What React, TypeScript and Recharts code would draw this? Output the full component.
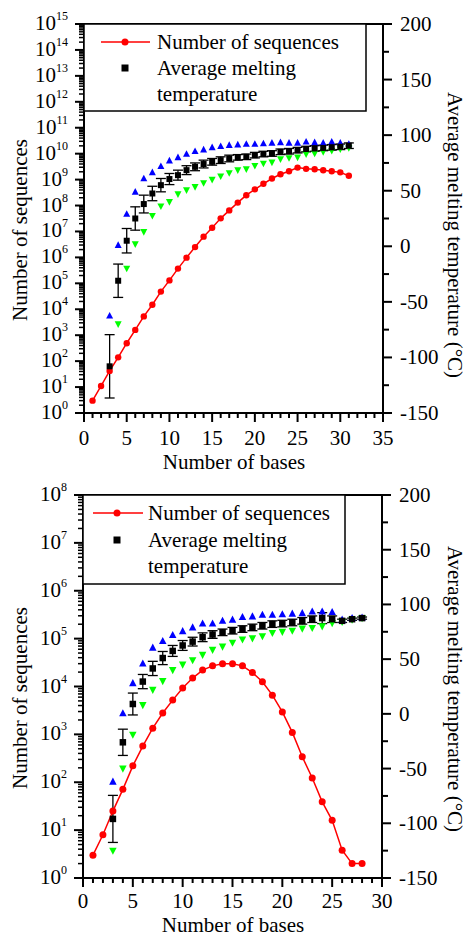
import React from "react";
import { ComposedChart, Scatter, XAxis, YAxis, ErrorBar, ReferenceLine, Legend } from "recharts";

const FONT = '"Liberation Serif", "Times New Roman", serif';

// ---- upper panel ----
const topBases = [1, 2, 3, 4, 5, 6, 7, 8, 9, 10, 11, 12, 13, 14, 15, 16, 17, 18, 19, 20, 21, 22, 23, 24, 25, 26, 27, 28, 29, 30, 31];
const topSequences = [3, 11, 42, 140, 490, 1.6e3, 5.3e3, 1.5e4, 4.8e4, 1.3e5, 3.7e5, 9.8e5, 2.5e6, 6.3e6, 1.4e7, 3.2e7, 6.5e7, 1.3e8, 2.5e8, 4.2e8, 6.9e8, 1.1e9, 1.6e9, 2.1e9, 2.9e9, 2.6e9, 2.5e9, 2.3e9, 2.1e9, 1.9e9, 1.4e9];
const topTempBases = [3, 4, 5, 6, 7, 8, 9, 10, 11, 12, 13, 14, 15, 16, 17, 18, 19, 20, 21, 22, 23, 24, 25, 26, 27, 28, 29, 30, 31];
const topAvgTemp = [-108, -31, 5, 25, 38, 47.5, 55, 60.5, 64, 68.5, 71.5, 74, 76, 77.5, 79, 80, 80.5, 82, 83, 83.5, 85, 85.5, 86.5, 87.5, 88, 88.5, 89, 89.5, 90.5];
const topAvgErr = [28.5, 15, 11, 10.5, 8, 6.5, 6, 5, 4.5, 4, 3.5, 3.5, 3, 3, 3, 2.5, 2.5, 2.5, 2.5, 2.5, 2.5, 2.5, 2.5, 2.5, 2.5, 2.5, 2.5, 2.5, 2.5];
const topMaxTemp = [-62.5, 1, 29, 49, 61, 66.5, 72, 77, 80, 83, 85.5, 87, 89, 90, 91, 91.5, 92, 92, 92.5, 93, 93.5, 93, 93, 94, 93.5, 93, 94, 93, 92];
const topMinTemp = [null, -70, -20, 2, 13, 27.5, 36, 40, 47, 50.5, 53.5, 57, 60, 63, 66, 68.5, 69.5, 72.5, 74.5, 75.5, 78.5, 79.5, 80, 83, 83.5, 85, 86, 87.5, 88.5];

// ---- lower panel ----
const bottomBases = [1, 2, 3, 4, 5, 6, 7, 8, 9, 10, 11, 12, 13, 14, 15, 16, 17, 18, 19, 20, 21, 22, 23, 24, 25, 26, 27, 28];
const bottomSequences = [3, 8, 25, 71, 220, 570, 1350, 2800, 5200, 9300, 1.5e4, 2.2e4, 2.7e4, 3.0e4, 3.0e4, 2.7e4, 1.95e4, 1.26e4, 6.6e3, 2.95e3, 1.1e3, 340, 123, 39, 16, 3.8, 2, 2];
const bottomTempBases = [3, 4, 5, 6, 7, 8, 9, 10, 11, 12, 13, 14, 15, 16, 17, 18, 19, 20, 21, 22, 23, 24, 25, 26, 27, 28];
const bottomAvgTemp = [-96, -26, 9, 29.5, 41.5, 51, 57.5, 62.5, 66, 70, 72.5, 74.5, 76, 77.5, 79, 80.5, 82, 82.5, 83.5, 85, 86.5, 87.5, 86.5, 85, 86.5, 87.5];
const bottomAvgErr = [21.5, 12, 10, 6.5, 6.5, 6, 5, 4.5, 4, 4, 3.5, 3, 3, 3, 3, 3, 3, 3, 3, 3, 3, 5, 3, 1.5, 1, 1];
const bottomMaxTemp = [-62, 0.5, 28, 46, 60.5, 66.5, 72, 75.5, 79, 82.5, 82.5, 85, 86, 88.5, 89, 90.5, 90.5, 91, 91.5, 92, 93.5, 93.5, 93, 86, 87.5, 88];
const bottomMinTemp = [-125, -50, -19, 8, 22, 30, 40, 45, 49, 54, 58.5, 61.5, 65, 68, 69, 71, 74, 75, 76, 78, 78.5, 80, 83, 84, 86, 87.5];

// axis ticks
const topExponents = [0, 1, 2, 3, 4, 5, 6, 7, 8, 9, 10, 11, 12, 13, 14, 15];
const bottomExponents = [0, 1, 2, 3, 4, 5, 6, 7, 8];
const tempTicks = [-150, -125, -100, -75, -50, -25, 0, 25, 50, 75, 100, 125, 150, 175, 200];
const topBaseTicks = [0, 1, 2, 3, 4, 5, 6, 7, 8, 9, 10, 11, 12, 13, 14, 15, 16, 17, 18, 19, 20, 21, 22, 23, 24, 25, 26, 27, 28, 29, 30, 31, 32, 33, 34, 35];
const bottomBaseTicks = [0, 1, 2, 3, 4, 5, 6, 7, 8, 9, 10, 11, 12, 13, 14, 15, 16, 17, 18, 19, 20, 21, 22, 23, 24, 25, 26, 27, 28, 29, 30];

const seriesLabel = "Number of sequences";
const avgLabel = ["Average melting", "temperature"];

// log ticks incl. minor 2..9 per decade
function logTicks(exps: number[]) {
  const out: number[] = [];
  exps.forEach((e, i) => {
    out.push(Math.pow(10, e));
    if (i < exps.length - 1) for (let m = 2; m <= 9; m++) out.push(m * Math.pow(10, e));
  });
  return out;
}

const pts = (xs: number[], ys: (number | null)[], errs?: number[]) =>
  xs
    .map((x, i) => ({ x, y: ys[i], err: errs ? errs[i] : 0 }))
    .filter((p) => p.y !== null);

function LogTick({ x, y, payload }: any) {
  const v = payload.value;
  const e = Math.log10(v);
  const major = Math.abs(e - Math.round(e)) < 1e-9;
  return (
    <g>
      <line x1={x} x2={x - (major ? 9 : 5)} y1={y} y2={y} stroke="#000" strokeWidth={major ? 2 : 1.5} />
      {major && (
        <text x={x - 16} y={y + 6} textAnchor="end" fontFamily={FONT} fontSize={21} fill="#000">
          10<tspan dy={-10} fontSize={12}>{Math.round(e)}</tspan>
        </text>
      )}
    </g>
  );
}

function TempTick({ x, y, payload }: any) {
  const major = payload.value % 50 === 0;
  return (
    <g>
      <line x1={x} x2={x + (major ? 9 : 6)} y1={y} y2={y} stroke="#000" strokeWidth={2} />
      {major && (
        <text x={x + 17} y={y + 7} textAnchor="start" fontFamily={FONT} fontSize={21} fill="#000">
          {payload.value}
        </text>
      )}
    </g>
  );
}

function BaseTick({ x, y, payload, dy }: any) {
  const major = payload.value % 5 === 0;
  return (
    <g>
      <line x1={x} x2={x} y1={y} y2={y + (major ? 9 : 5)} stroke="#000" strokeWidth={2} />
      {major && (
        <text x={x} y={y + dy} textAnchor="middle" fontFamily={FONT} fontSize={21} fill="#000">
          {payload.value}
        </text>
      )}
    </g>
  );
}

function AxisTitle({ text, tx, ty, rot }: any) {
  return (
    <text
      x={tx}
      y={ty}
      transform={rot ? `rotate(${rot} ${tx} ${ty})` : undefined}
      textAnchor="middle"
      fontFamily={FONT}
      fontSize={21}
      fill="#000"
    >
      {text}
    </text>
  );
}

function LegendBox({ w, h, lineX1, lineX2, dotX, textX, rows }: any) {
  return (
    <svg width={w + 2} height={h + 2} style={{ display: "block" }}>
      <rect x={1} y={1} width={w} height={h} fill="#fff" stroke="#000" strokeWidth={1.5} />
      <line x1={lineX1} x2={lineX2} y1={rows[0]} y2={rows[0]} stroke="#ff0000" strokeWidth={1.5} />
      <circle cx={dotX} cy={rows[0]} r={3.5} fill="#ff0000" />
      <rect x={dotX - 3.5} y={rows[1] - 3.5} width={7} height={7} fill="#000" />
      <g fontFamily={FONT} fontSize={21} fill="#000">
        <text x={textX} y={rows[0] + 7}>{seriesLabel}</text>
        <text x={textX} y={rows[1] + 7}>{avgLabel[0]}</text>
        <text x={textX} y={rows[2] + 7}>{avgLabel[1]}</text>
      </g>
    </svg>
  );
}

const circleShape = (r: number) => (p: any) => <circle cx={p.cx} cy={p.cy} r={r} fill="#ff0000" />;
const squareShape = (s: number) => (p: any) => (
  <rect x={p.cx - s / 2} y={p.cy - s / 2} width={s} height={s} fill="#000" />
);
const triUpShape = (s: number) => (p: any) => (
  <polygon
    points={`${p.cx},${p.cy - s * 0.55} ${p.cx - s / 2},${p.cy + s * 0.4} ${p.cx + s / 2},${p.cy + s * 0.4}`}
    fill="#0000ff"
  />
);
const triDownShape = (s: number) => (p: any) => (
  <polygon
    points={`${p.cx},${p.cy + s * 0.55} ${p.cx - s / 2},${p.cy - s * 0.4} ${p.cx + s / 2},${p.cy - s * 0.4}`}
    fill="#00ff00"
  />
);

const axisStyle = { stroke: "#000", strokeWidth: 2 };

function Panel({ cfg }: any) {
  const seq = pts(cfg.bases, cfg.sequences);
  const avg = pts(cfg.tempBases, cfg.avg, cfg.err);
  const max = pts(cfg.tempBases, cfg.max);
  const min = pts(cfg.tempBases, cfg.min);
  const logMax = Math.pow(10, cfg.exponents[cfg.exponents.length - 1]);
  return (
    <div style={{ marginTop: cfg.shift, height: cfg.height }}>
      <ComposedChart width={471} height={cfg.height} margin={{ top: cfg.marginTop, right: 0, bottom: 0, left: 0 }}>
        <XAxis
          type="number"
          dataKey="x"
          domain={[0, cfg.xMax]}
          ticks={cfg.xTicks}
          interval={0}
          height={cfg.xHeight}
          allowDataOverflow
          tickSize={0}
          tickMargin={0}
          tickLine={false}
          axisLine={axisStyle}
          tick={<BaseTick dy={cfg.xTickDy} />}
          label={<AxisTitle text="Number of bases" tx={cfg.xTitle[0]} ty={cfg.xTitle[1]} />}
        />
        <YAxis
          yAxisId="left"
          dataKey="y"
          scale="log"
          type="number"
          domain={[1, logMax]}
          ticks={logTicks(cfg.exponents)}
          interval={0}
          width={cfg.leftWidth}
          allowDataOverflow
          tickSize={0}
          tickMargin={0}
          tickLine={false}
          axisLine={axisStyle}
          tick={<LogTick />}
          label={<AxisTitle text="Number of sequences" tx={cfg.leftTitle[0]} ty={cfg.leftTitle[1]} rot={-90} />}
        />
        <YAxis
          yAxisId="right"
          orientation="right"
          dataKey="y"
          type="number"
          domain={[-150, 200]}
          ticks={tempTicks}
          interval={0}
          width={cfg.rightWidth}
          allowDataOverflow
          tickSize={0}
          tickMargin={0}
          tickLine={false}
          axisLine={axisStyle}
          tick={<TempTick />}
          label={
            <AxisTitle
              text="Average melting temperature (°C)"
              tx={cfg.rightTitle[0]}
              ty={cfg.rightTitle[1]}
              rot={90}
            />
          }
        />
        <ReferenceLine yAxisId="left" y={logMax} stroke="#000" strokeWidth={2} />
        <Scatter
          yAxisId="left"
          data={seq}
          line={{ stroke: "#ff0000", strokeWidth: 1.5 }}
          lineType="joint"
          shape={circleShape(cfg.dotR)}
          isAnimationActive={false}
        />
        <Scatter yAxisId="right" data={max} shape={triUpShape(cfg.tri)} isAnimationActive={false} />
        <Scatter yAxisId="right" data={min} shape={triDownShape(cfg.tri)} isAnimationActive={false} />
        <Scatter yAxisId="right" data={avg} shape={squareShape(cfg.sq)} isAnimationActive={false}>
          <ErrorBar dataKey="err" direction="y" width={5} stroke="#000" strokeWidth={1.3} />
        </Scatter>
        <Legend
          layout="horizontal"
          verticalAlign="middle"
          align="center"
          wrapperStyle={{ left: cfg.legend.left, top: cfg.legend.top, width: cfg.legend.w + 2, height: cfg.legend.h + 2 }}
          content={() => <LegendBox {...cfg.legend} />}
        />
      </ComposedChart>
    </div>
  );
}

const topCfg = {
  shift: 0,
  height: 476,
  marginTop: 24,
  leftWidth: 84,
  rightWidth: 88,
  xHeight: 63,
  xMax: 35,
  xTicks: topBaseTicks,
  xTickDy: 32,
  exponents: topExponents,
  bases: topBases,
  sequences: topSequences,
  tempBases: topTempBases,
  avg: topAvgTemp,
  err: topAvgErr,
  max: topMaxTemp,
  min: topMinTemp,
  dotR: 3.2,
  tri: 7,
  sq: 6,
  xTitle: [234, 469],
  leftTitle: [27, 230],
  rightTitle: [448, 235],
  legend: { left: 83, top: 23, w: 282, h: 87, lineX1: 18, lineX2: 67, dotX: 42, textX: 74, rows: [19, 45, 71] },
};

const bottomCfg = {
  shift: -6,
  height: 467,
  marginTop: 25,
  leftWidth: 83,
  rightWidth: 89,
  xHeight: 59,
  xMax: 30,
  xTicks: bottomBaseTicks,
  xTickDy: 30,
  exponents: bottomExponents,
  bases: bottomBases,
  sequences: bottomSequences,
  tempBases: bottomTempBases,
  avg: bottomAvgTemp,
  err: bottomAvgErr,
  max: bottomMaxTemp,
  min: bottomMinTemp,
  dotR: 3.5,
  tri: 7.5,
  sq: 6.5,
  xTitle: [233, 462],
  leftTitle: [27, 228],
  rightTitle: [448, 219],
  legend: { left: 82, top: 24, w: 262, h: 89, lineX1: 11, lineX2: 61, dotX: 35, textX: 66, rows: [19, 46, 72] },
};

export default function App() {
  return (
    <div style={{ position: "absolute", left: 0, top: 0, width: 471, height: 937, background: "#fff", fontFamily: FONT }}>
      <Panel cfg={topCfg} />
      <Panel cfg={bottomCfg} />
    </div>
  );
}
